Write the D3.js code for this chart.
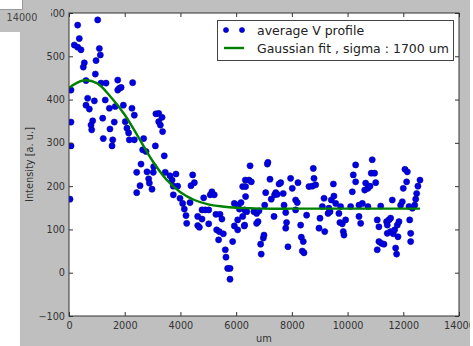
<!DOCTYPE html>
<html>
<head>
<meta charset="utf-8">
<script src="https://cdn.jsdelivr.net/npm/d3@7/dist/d3.min.js"></script>
<style>
html,body{margin:0;padding:0;background:#fff;}
svg{display:block;font-family:"DejaVu Sans",sans-serif;}
</style>
</head>
<body>
<svg id="c" width="473" height="346"></svg>
<script>
// ---- data ----
const pointX = [36,72,72,72,190,311,311,370,430,513,550,610,610,670,730,790,815,850,910,945,970,1030,1090,1125,1150,1210,1230,1300,1330,1450,1470,1545,1570,1625,1660,1750,1750,1805,1870,1950,2020,2080,2140,2165,2260,2285,2345,2345,2430,2430,2550,2585,2645,2680,2765,2800,2860,2885,2980,3025,3040,3100,3120,3220,3220,3280,3340,3360,3420,3455,3625,3700,3745,3745,3840,3900,3985,4080,4140,4200,4225,4345,4380,4440,4500,4620,4620,4680,4775,4775,4835,4890,5015,5015,5070,5130,5215,5275,5300,5370,5395,5420,5490,5540,5610,5635,5695,5780,5780,5875,5935,5935,6055,6055,6055,6115,6175,6235,6235,6290,6330,
6305,6305,6340,6340,6380,6460,6500,6545,6640,6735,6735,6785,6820,6880,6900,6975,7000,7025,7060,7120,7140,7215,7260,7360,7380,7420,7475,7540,7600,7690,7720,7780,7780,7810,7860,7955,8015,8135,8135,8195,8220,8315,8340,8375,8410,8435,8530,8615,8735,8770,8795,8855,8975,9010,9095,9155,9180,9300,9330,9370,9415,9490,9510,9575,9690,9725,9750,9810,9845,9870,9930,10110,10170,10205,10290,10290,10410,10410,10470,10530,10615,10650,10730,10730,10805,10850,10885,10970,11010,11065,11065,11125,11125,11190,11210,11305,11400,11425,11425,11485,11545,11545,11605,11640,11690,11725,11760,11785,11810,11845,11905,11965,12000,12060,12120,12145,12205,12230,12265,12265,12325,12410,12445,12480,12525,12600];
const pointY = [170,293,348,422,526,572,521,541,515,475,485,444,387,403,378,341,330,351,397,459,490,584,518,503,438,357,310,399,438,380,332,293,307,348,384,445,422,426,428,387,349,334,323,307,380,439,364,307,232,185,201,251,284,310,280,233,217,207,193,232,245,293,367,368,349,341,359,326,270,232,224,214,200,180,228,200,172,160,147,132,114,162,201,226,208,130,109,105,145,124,173,145,145,113,180,187,180,135,99,76,95,135,124,90,53,36,10,10,-15,72,160,108,156,122,99,147,162,199,130,108,214,
145,110,199,176,141,214,247,210,141,137,114,118,143,66,43,80,87,156,185,251,255,216,170,130,180,185,181,205,208,183,156,139,103,116,60,218,195,168,145,162,208,110,82,50,72,46,133,199,200,241,218,203,103,126,153,172,95,137,149,141,168,205,177,160,137,116,153,113,95,87,122,153,187,226,249,210,156,130,114,160,191,207,195,153,200,230,261,230,208,122,53,106,72,154,68,66,118,110,91,122,126,95,168,90,99,57,43,110,83,118,156,164,195,239,210,233,153,122,91,72,149,156,170,183,200,214];
const fitX = [0,500,1000,1500,2000,2500,3000,3500,4000,4500,5000,5500,6000,6500,7000,8000,9000,10000,11000,12000,12600];
const fitY = [427,444,438,406,365,312,258,215,186,168,158,153,150,149,148,148,148,148,148,148,148];
const xTicks = [0,2000,4000,6000,8000,10000,12000,14000];
const yTicks = [-100,0,100,200,300,400,500,600];
const seriesNames = ["average V profile","Gaussian fit , sigma : 1700 um"];
const xLabel = "um", yLabel = "Intensity [a. u.]", strayLabel = "14000";

// ---- drawing ----
const svg = d3.select("#c");
const L = 69, R = 459, T = 13, B = 316;
const x = d3.scaleLinear().domain([0,14000]).range([L,R]);
const y = d3.scaleLinear().domain([-100,600]).range([B,T]);

svg.append("rect").attr("x",20).attr("y",0).attr("width",450).attr("height",346).attr("fill","#bfbfbf");
svg.append("rect").attr("x",L).attr("y",T).attr("width",R-L).attr("height",B-T).attr("fill","#fff");

const plot = svg.append("g");
plot.append("clipPath").attr("id","clip").append("rect").attr("x",L).attr("y",T).attr("width",R-L).attr("height",B-T);
const pg = plot.append("g").attr("clip-path","url(#clip)");

pg.selectAll("circle").data(d3.range(pointX.length)).join("circle")
  .attr("cx",i=>x(pointX[i])).attr("cy",i=>y(pointY[i])).attr("r",3.1)
  .attr("fill","#0000e6").attr("stroke","#00008a").attr("stroke-width",0.5);

const line = d3.line().x(i=>x(fitX[i])).y(i=>y(fitY[i])).curve(d3.curveCatmullRom);
pg.append("path").attr("d",line(d3.range(fitX.length))).attr("fill","none")
  .attr("stroke","#008000").attr("stroke-width",2.4);

// axes (ticks inward on all sides)
const tickStyle = g => { g.select(".domain").remove(); g.selectAll("line").attr("stroke","#333"); g.selectAll("text").attr("fill","#333").style("font-size","9.7px").style("font-family","DejaVu Sans"); };
svg.append("g").attr("transform",`translate(0,${B})`).call(d3.axisBottom(x).tickValues(xTicks).tickSize(-4).tickPadding(6).tickFormat(d3.format("d"))).call(tickStyle);
svg.append("g").attr("transform",`translate(0,${T})`).call(d3.axisTop(x).tickValues(xTicks).tickSize(-4).tickFormat("")).call(tickStyle);
svg.append("g").attr("transform",`translate(${L},0)`).call(d3.axisLeft(y).tickValues(yTicks).tickSize(-4).tickPadding(4).tickFormat(d=>d<0?"\u2212"+Math.abs(d):d)).call(tickStyle);
svg.append("g").attr("transform",`translate(${R},0)`).call(d3.axisRight(y).tickValues(yTicks).tickSize(-4).tickFormat("")).call(tickStyle);
svg.append("rect").attr("x",L).attr("y",T).attr("width",R-L).attr("height",B-T).attr("fill","none").attr("stroke","#333").attr("stroke-width",1);

svg.append("text").attr("x",(L+R)/2).attr("y",342).attr("text-anchor","middle").attr("fill","#333").style("font-size","9.8px").text(xLabel);
svg.append("text").attr("transform",`translate(33,${(T+B)/2}) rotate(-90)`).attr("text-anchor","middle").attr("fill","#333").style("font-size","9.8px").text(yLabel);

// legend
const lg = svg.append("g");
lg.append("rect").attr("x",217.5).attr("y",20.5).attr("width",236).attr("height",40).attr("fill","#fff").attr("stroke","#444").attr("stroke-width",1);
[226,242].forEach(cx=>lg.append("circle").attr("cx",cx).attr("cy",30).attr("r",2.6).attr("fill","#0000e6").attr("stroke","#00008a").attr("stroke-width",0.5));
lg.append("line").attr("x1",224).attr("x2",244).attr("y1",48).attr("y2",48).attr("stroke","#008000").attr("stroke-width",2.4);
lg.selectAll("text.l").data(seriesNames).join("text").attr("class","l").attr("x",257).attr("y",(d,i)=>34.5+i*18)
  .attr("fill","#222").style("font-size","12.5px").text(d=>d);

// stray pasted fragment at top-left
svg.append("rect").attr("x",0).attr("y",9).attr("width",51).attr("height",23).attr("fill","#bfbfbf");
svg.append("text").attr("x",22).attr("y",21).attr("text-anchor","middle").attr("fill","#444").style("font-size","9.7px").text(strayLabel);
svg.append("rect").attr("x",0).attr("y",0).attr("width",22).attr("height",9).attr("fill","#fff");
svg.append("path").attr("d","M0,9.5H22.5V0").attr("fill","none").attr("stroke","#999").attr("stroke-width",1);
// thin white strip at the right edge of the screenshot
svg.append("rect").attr("x",470).attr("y",0).attr("width",3).attr("height",346).attr("fill","#fff");
</script>
</body>
</html>
